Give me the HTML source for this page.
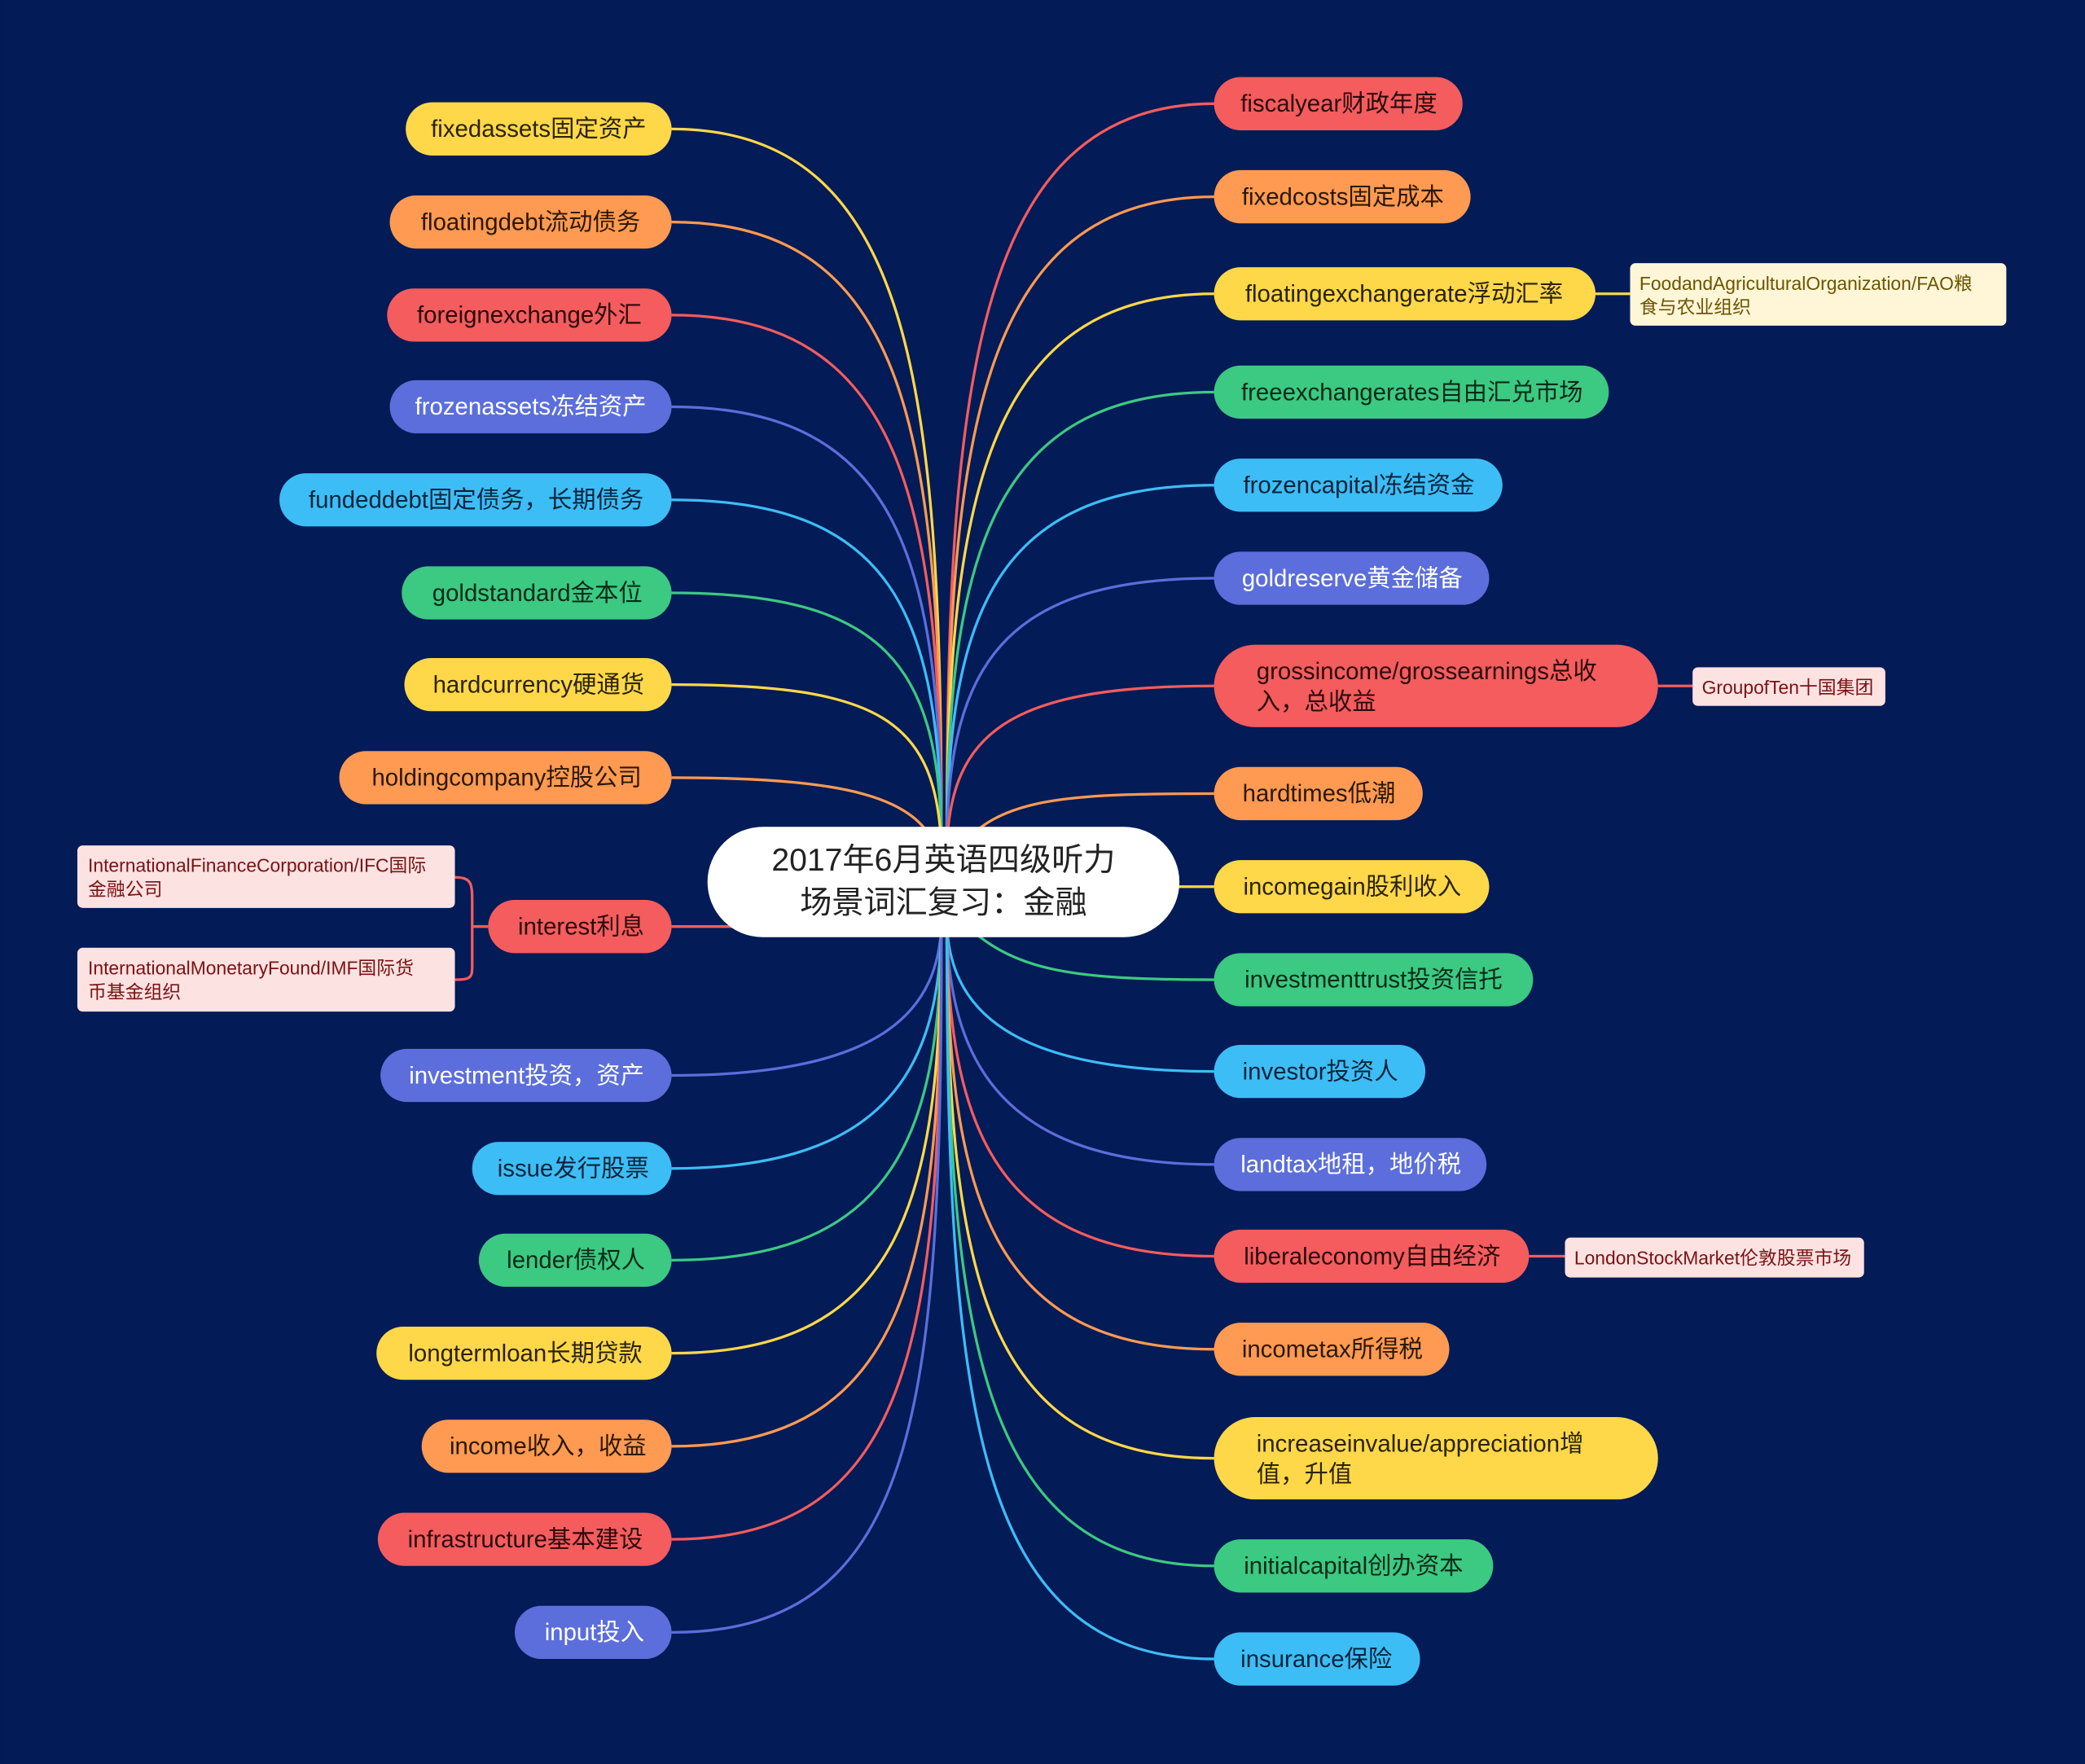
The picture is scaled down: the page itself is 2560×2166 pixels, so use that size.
<!DOCTYPE html>
<html><head><meta charset="utf-8">
<style>
html,body{margin:0;padding:0;background:#031b56;}
svg{display:block;}
text{font-family:"Liberation Sans","Noto Sans CJK SC",sans-serif;}
</style></head>
<body>
<svg width="2560" height="2166" viewBox="0 0 1568 1327" xmlns="http://www.w3.org/2000/svg">
<rect width="1568" height="1327" fill="#031b56"/>
<g fill="none" stroke-width="2">
<!-- left curves -->
<path d="M505,97 C690,97 708,300 708,640" stroke="#FFD84A"/>
<path d="M505,167 C685,167 708,330 708,640" stroke="#FF9A52"/>
<path d="M505,237 C680,237 708,380 708,640" stroke="#F45C5E"/>
<path d="M505,306 C675,306 708,420 708,640" stroke="#5B6EDB"/>
<path d="M505,376 C670,376 708,460 708,640" stroke="#3DBDF6"/>
<path d="M505,446 C665,446 708,500 708,640" stroke="#3CC982"/>
<path d="M505,515 C660,515 705,540 708,640" stroke="#FFD84A"/>
<path d="M505,585 C640,585 690,600 705,640" stroke="#FF9A52"/>
<path d="M505,697 L600,697" stroke="#F45C5E"/>
<path d="M505,809 C665,809 708,760 708,690" stroke="#5B6EDB"/>
<path d="M505,879 C670,879 708,800 708,690" stroke="#3DBDF6"/>
<path d="M505,948 C675,948 708,850 708,690" stroke="#3CC982"/>
<path d="M505,1018 C680,1018 708,900 708,690" stroke="#FFD84A"/>
<path d="M505,1088 C685,1088 708,950 708,690" stroke="#FF9A52"/>
<path d="M505,1158 C690,1158 708,1000 708,690" stroke="#F45C5E"/>
<path d="M505,1228 C695,1228 708,1050 708,690" stroke="#5B6EDB"/>
<!-- right curves -->
<path d="M913,78 C730,78 712,300 712,640" stroke="#F45C5E"/>
<path d="M913,148 C735,148 712,330 712,640" stroke="#FF9A52"/>
<path d="M913,221 C740,221 712,380 712,640" stroke="#FFD84A"/>
<path d="M913,295 C745,295 712,420 712,640" stroke="#3CC982"/>
<path d="M913,365 C750,365 712,460 712,640" stroke="#3DBDF6"/>
<path d="M913,435 C755,435 712,500 712,640" stroke="#5B6EDB"/>
<path d="M913,516 C760,516 714,550 712,640" stroke="#F45C5E"/>
<path d="M913,597 C800,597 750,600 720,640" stroke="#FF9A52"/>
<path d="M913,667 L850,667" stroke="#FFD84A"/>
<path d="M913,737 C800,737 760,730 720,690" stroke="#3CC982"/>
<path d="M913,806 C760,806 712,760 712,690" stroke="#3DBDF6"/>
<path d="M913,876 C755,876 712,800 712,690" stroke="#5B6EDB"/>
<path d="M913,945 C750,945 712,850 712,690" stroke="#F45C5E"/>
<path d="M913,1015 C745,1015 712,900 712,690" stroke="#FF9A52"/>
<path d="M913,1097 C740,1097 712,960 712,690" stroke="#FFD84A"/>
<path d="M913,1178 C735,1178 712,1000 712,690" stroke="#3CC982"/>
<path d="M913,1248 C730,1248 712,1050 712,690" stroke="#3DBDF6"/>
<!-- sub connectors -->
<path d="M1200,221 L1226,221" stroke="#FFD84A"/>
<path d="M1247,516 L1273,516" stroke="#F45C5E"/>
<path d="M1150,945 L1177,945" stroke="#F45C5E"/>
<path d="M367,697 L355,697 M342,660 C355,660 355,665 355,680 L355,725 C355,735 355,737 342,737" stroke="#F45C5E"/>
</g>
<!-- center -->
<rect x="532" y="622" width="355" height="83" rx="41.5" fill="#fff"/>
<text x="709.5" y="655" font-size="24" text-anchor="middle" fill="#222">2017年6月英语四级听力</text>
<text x="709.5" y="687" font-size="24" text-anchor="middle" fill="#222">场景词汇复习：金融</text>
<g font-size="18" text-anchor="middle">
<!-- left nodes -->
<rect x="305" y="77" width="200" height="40" rx="20" fill="#FFD84A"/><text x="405" y="103" fill="#2b2300">fixedassets固定资产</text>
<rect x="293" y="147" width="212" height="40" rx="20" fill="#FF9A52"/><text x="399" y="173" fill="#2b1800">floatingdebt流动债务</text>
<rect x="291" y="217" width="214" height="40" rx="20" fill="#F45C5E"/><text x="398" y="243" fill="#2a0a0a">foreignexchange外汇</text>
<rect x="293" y="286" width="212" height="40" rx="20" fill="#5B6EDB"/><text x="399" y="312" fill="#fff">frozenassets冻结资产</text>
<rect x="210" y="356" width="295" height="40" rx="20" fill="#3DBDF6"/><text x="358" y="382" fill="#06243a">fundeddebt固定债务，长期债务</text>
<rect x="302" y="426" width="203" height="40" rx="20" fill="#3CC982"/><text x="404" y="452" fill="#062a18">goldstandard金本位</text>
<rect x="304" y="495" width="201" height="40" rx="20" fill="#FFD84A"/><text x="405" y="521" fill="#2b2300">hardcurrency硬通货</text>
<rect x="255" y="565" width="250" height="40" rx="20" fill="#FF9A52"/><text x="381" y="591" fill="#2b1800">holdingcompany控股公司</text>
<rect x="367" y="677" width="138" height="40" rx="20" fill="#F45C5E"/><text x="437" y="703" fill="#2a0a0a">interest利息</text>
<rect x="286" y="789" width="219" height="40" rx="20" fill="#5B6EDB"/><text x="396" y="815" fill="#fff">investment投资，资产</text>
<rect x="355" y="859" width="150" height="40" rx="20" fill="#3DBDF6"/><text x="431" y="885" fill="#06243a">issue发行股票</text>
<rect x="360" y="928" width="145" height="40" rx="20" fill="#3CC982"/><text x="433" y="954" fill="#062a18">lender债权人</text>
<rect x="283" y="998" width="222" height="40" rx="20" fill="#FFD84A"/><text x="395" y="1024" fill="#2b2300">longtermloan长期贷款</text>
<rect x="317" y="1068" width="188" height="40" rx="20" fill="#FF9A52"/><text x="412" y="1094" fill="#2b1800">income收入，收益</text>
<rect x="284" y="1138" width="221" height="40" rx="20" fill="#F45C5E"/><text x="395" y="1164" fill="#2a0a0a">infrastructure基本建设</text>
<rect x="387" y="1208" width="118" height="40" rx="20" fill="#5B6EDB"/><text x="447" y="1234" fill="#fff">input投入</text>
<!-- right nodes -->
<rect x="913" y="58" width="187" height="40" rx="20" fill="#F45C5E"/><text x="1007" y="84" fill="#2a0a0a">fiscalyear财政年度</text>
<rect x="913" y="128" width="193" height="40" rx="20" fill="#FF9A52"/><text x="1010" y="154" fill="#2b1800">fixedcosts固定成本</text>
<rect x="913" y="201" width="287" height="40" rx="20" fill="#FFD84A"/><text x="1056" y="227" fill="#2b2300">floatingexchangerate浮动汇率</text>
<rect x="913" y="275" width="297" height="40" rx="20" fill="#3CC982"/><text x="1062" y="301" fill="#062a18">freeexchangerates自由汇兑市场</text>
<rect x="913" y="345" width="217" height="40" rx="20" fill="#3DBDF6"/><text x="1022" y="371" fill="#06243a">frozencapital冻结资金</text>
<rect x="913" y="415" width="207" height="40" rx="20" fill="#5B6EDB"/><text x="1017" y="441" fill="#fff">goldreserve黄金储备</text>
<rect x="913" y="485" width="334" height="62" rx="31" fill="#F45C5E"/>
<text x="945" y="511" text-anchor="start" fill="#2a0a0a">grossincome/grossearnings总收</text>
<text x="945" y="534" text-anchor="start" fill="#2a0a0a">入，总收益</text>
<rect x="913" y="577" width="157" height="40" rx="20" fill="#FF9A52"/><text x="992" y="603" fill="#2b1800">hardtimes低潮</text>
<rect x="913" y="647" width="207" height="40" rx="20" fill="#FFD84A"/><text x="1017" y="673" fill="#2b2300">incomegain股利收入</text>
<rect x="913" y="717" width="240" height="40" rx="20" fill="#3CC982"/><text x="1033" y="743" fill="#062a18">investmenttrust投资信托</text>
<rect x="913" y="786" width="159" height="40" rx="20" fill="#3DBDF6"/><text x="993" y="812" fill="#06243a">investor投资人</text>
<rect x="913" y="856" width="205" height="40" rx="20" fill="#5B6EDB"/><text x="1016" y="882" fill="#fff">landtax地租，地价税</text>
<rect x="913" y="925" width="237" height="40" rx="20" fill="#F45C5E"/><text x="1032" y="951" fill="#2a0a0a">liberaleconomy自由经济</text>
<rect x="913" y="995" width="177" height="40" rx="20" fill="#FF9A52"/><text x="1002" y="1021" fill="#2b1800">incometax所得税</text>
<rect x="913" y="1066" width="334" height="62" rx="31" fill="#FFD84A"/>
<text x="945" y="1092" text-anchor="start" fill="#2b2300">increaseinvalue/appreciation增</text>
<text x="945" y="1115" text-anchor="start" fill="#2b2300">值，升值</text>
<rect x="913" y="1158" width="210" height="40" rx="20" fill="#3CC982"/><text x="1018" y="1184" fill="#062a18">initialcapital创办资本</text>
<rect x="913" y="1228" width="155" height="40" rx="20" fill="#3DBDF6"/><text x="990" y="1254" fill="#06243a">insurance保险</text>
</g>
<!-- sub boxes -->
<g font-size="14">
<rect x="1226" y="198" width="283" height="47" rx="4" fill="#FFF6D8"/>
<text x="1233" y="218" fill="#6b5400">FoodandAgriculturalOrganization/FAO粮</text>
<text x="1233" y="236" fill="#6b5400">食与农业组织</text>
<rect x="1273" y="502" width="145" height="29" rx="4" fill="#FDE2E2"/>
<text x="1280" y="522" fill="#7a1212">GroupofTen十国集团</text>
<rect x="1177" y="931" width="225" height="30" rx="4" fill="#FDE2E2"/>
<text x="1184" y="951" fill="#7a1212">LondonStockMarket伦敦股票市场</text>
<rect x="58" y="636" width="284" height="47" rx="4" fill="#FDE2E2"/>
<text x="66" y="656" fill="#7a1212">InternationalFinanceCorporation/IFC国际</text>
<text x="66" y="674" fill="#7a1212">金融公司</text>
<rect x="58" y="713" width="284" height="48" rx="4" fill="#FDE2E2"/>
<text x="66" y="733" fill="#7a1212">InternationalMonetaryFound/IMF国际货</text>
<text x="66" y="751" fill="#7a1212">币基金组织</text>
</g>
</svg>
</body></html>
